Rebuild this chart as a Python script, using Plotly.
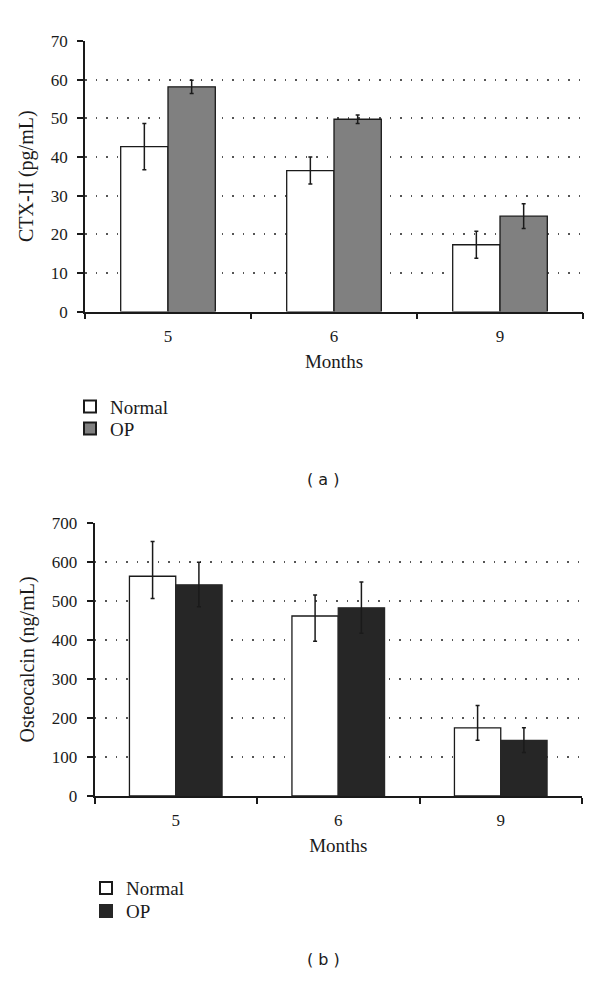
import plotly.graph_objects as go

months = ["5", "6", "9"]

# Panel (a): CTX-II (pg/mL)
ctx_normal = [42.7, 36.5, 17.3]
ctx_normal_err = [6.0, 3.5, 3.5]
ctx_op = [58.2, 49.8, 24.7]
ctx_op_err = [1.7, 1.1, 3.2]

# Panel (b): Osteocalcin (ng/mL)
ost_normal = [564, 462, 175]
ost_normal_err_up = [89, 54, 57]
ost_normal_err_down = [57, 65, 32]
ost_op = [542, 483, 143]
ost_op_err_up = [58, 66, 32]
ost_op_err_down = [56, 65, 31]

W, H = 600, 985
SERIF = "Liberation Serif"
SANS = "DejaVu Sans"
INK = "#1a1a1a"

def px_x(x):
    return x / W

def px_y(y):
    return 1 - y / H

fig = go.Figure()

outline = dict(color=INK, width=1.3)
eb = dict(type="data", color=INK, thickness=1.5, width=2)

fig.add_trace(go.Bar(x=months, y=ctx_normal, name="Normal",
                     marker=dict(color="white", line=outline),
                     error_y=dict(array=ctx_normal_err, **eb),
                     xaxis="x", yaxis="y", legend="legend"))
fig.add_trace(go.Bar(x=months, y=ctx_op, name="OP",
                     marker=dict(color="#808080", line=outline),
                     error_y=dict(array=ctx_op_err, **eb),
                     xaxis="x", yaxis="y", legend="legend2"))
fig.add_trace(go.Bar(x=months, y=ost_normal, name="Normal",
                     marker=dict(color="white", line=outline),
                     error_y=dict(array=ost_normal_err_up, arrayminus=ost_normal_err_down,
                                  symmetric=False, **eb),
                     xaxis="x2", yaxis="y2", legend="legend3"))
fig.add_trace(go.Bar(x=months, y=ost_op, name="OP",
                     marker=dict(color="#262626", line=dict(color="#262626", width=1.3)),
                     error_y=dict(array=ost_op_err_up, arrayminus=ost_op_err_down,
                                  symmetric=False, **eb),
                     xaxis="x2", yaxis="y2", legend="legend4"))

xcommon = dict(type="category", showline=True, linecolor=INK, linewidth=1.5,
               ticks="outside", tickson="boundaries", ticklen=6, tickwidth=1.5,
               tickcolor=INK, showgrid=False, zeroline=False, ticklabelstandoff=8,
               tickfont=dict(family=SERIF, size=17, color=INK),
               title=dict(text="Months", font=dict(family=SERIF, size=19, color=INK),
                          standoff=10))
ycommon = dict(showline=True, linecolor=INK, linewidth=1.5, ticks="outside",
               ticklen=6, tickwidth=1.5, tickcolor=INK,
               showgrid=True, gridcolor="#555555", gridwidth=1.5, griddash="1.5px,9px",
               zeroline=False, ticklabelstandoff=6,
               tickfont=dict(family=SERIF, size=17, color=INK))

def leg(x, y):
    return dict(x=px_x(x), y=px_y(y), xanchor="left", yanchor="top",
                font=dict(family=SERIF, size=19, color=INK),
                bgcolor="rgba(0,0,0,0)", borderwidth=0, itemsizing="constant")

fig.update_layout(
    width=W, height=H,
    margin=dict(l=0, r=0, t=0, b=0),
    paper_bgcolor="white", plot_bgcolor="white",
    font=dict(family=SERIF, color=INK),
    barmode="group", bargap=0.43, bargroupgap=0,
    xaxis=dict(domain=[px_x(85), px_x(583)], anchor="y", **xcommon),
    yaxis=dict(domain=[px_y(308.5), px_y(32.5)], anchor="x", range=[0, 70.1],
               tickvals=[0, 10, 20, 30, 40, 50, 60, 70],
               title=dict(text="CTX-II (pg/mL)", font=dict(family=SERIF, size=20, color=INK),
                          standoff=12),
               **ycommon),
    xaxis2=dict(domain=[px_x(94.5), px_x(582)], anchor="y2", **xcommon),
    yaxis2=dict(domain=[px_y(802.5), px_y(524)], anchor="x2", range=[0, 701],
                tickvals=[0, 100, 200, 300, 400, 500, 600, 700],
                title=dict(text="Osteocalcin (ng/mL)", font=dict(family=SERIF, size=20, color=INK),
                           standoff=12),
                **ycommon),
    legend=leg(70, 386),
    legend2=leg(70, 408.5),
    legend3=leg(86, 877),
    legend4=leg(86, 900.5),
    showlegend=True,
    annotations=[
        dict(text="( a )", x=px_x(323), y=px_y(480), xref="paper", yref="paper",
             xanchor="center", yanchor="middle",
             showarrow=False, font=dict(family=SANS, size=16, color=INK)),
        dict(text="( b )", x=px_x(323), y=px_y(969), xref="paper", yref="paper",
             xanchor="center", yanchor="middle",
             showarrow=False, font=dict(family=SANS, size=16, color=INK)),
    ],
)

fig.write_html("out.html", config={"displayModeBar": False},
               post_script="document.body.style.margin='0';document.body.style.overflow='hidden';")
